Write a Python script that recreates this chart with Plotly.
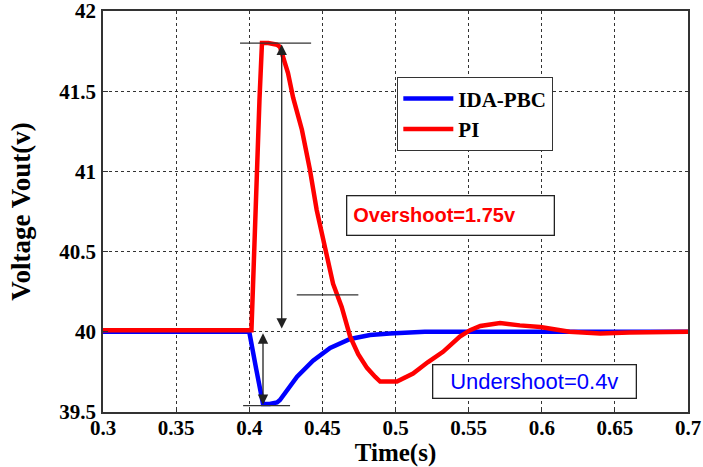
import plotly.graph_objects as go

# ---- data ----
t_ida = [0.30, 0.35, 0.40, 0.4047, 0.4094, 0.414, 0.419, 0.421, 0.4265, 0.4327, 0.4436,
         0.4553, 0.469, 0.4826, 0.496, 0.52, 0.55, 0.60, 0.65, 0.70]
v_ida = [40.0, 40.0, 40.0, 39.77, 39.55, 39.55, 39.56, 39.575, 39.64, 39.72, 39.82,
         39.90, 39.955, 39.98, 39.99, 40.0, 40.0, 40.0, 40.0, 40.0]

t_pi = [0.30, 0.35, 0.4015, 0.403, 0.405, 0.407, 0.4087, 0.413, 0.419, 0.421, 0.4265,
        0.43, 0.436, 0.4415, 0.4461, 0.4518, 0.4573, 0.4632, 0.469, 0.4745, 0.4805,
        0.486, 0.4895, 0.501, 0.506, 0.512, 0.522, 0.5325, 0.544, 0.551, 0.558,
        0.5715, 0.585, 0.599, 0.619, 0.64, 0.66, 0.68, 0.70]
v_pi = [40.01, 40.01, 40.01, 40.4, 41.0, 41.45, 41.8, 41.8, 41.79, 41.776, 41.613,
        41.46, 41.26, 41.01, 40.76, 40.51, 40.30, 40.155, 39.97, 39.86, 39.775,
        39.72, 39.69, 39.69, 39.71, 39.74, 39.81, 39.875, 39.97, 40.01, 40.036,
        40.055, 40.04, 40.03, 40.0, 39.99, 39.995, 40.0, 40.0]

series_names = ["IDA-PBC", "PI"]
x_ticks = [0.3, 0.35, 0.4, 0.45, 0.5, 0.55, 0.6, 0.65, 0.7]
x_tick_labels = ["0.3", "0.35", "0.4", "0.45", "0.5", "0.55", "0.6", "0.65", "0.7"]
y_ticks = [39.5, 40, 40.5, 41, 41.5, 42]
y_tick_labels = ["39.5", "40", "40.5", "41", "41.5", "42"]

# measurement markers (x0, x1, y) for horizontal reference lines
ref_lines = [(0.3937, 0.4423, 41.8), (0.4325, 0.4746, 40.23), (0.3958, 0.4279, 39.54)]
# double arrows (x, y_start, y_end)
arrows = [(0.4222, 41.8, 40.02), (0.4094, 40.0, 39.545)]
labels = [("<b>Overshoot=1.75v</b>", 0.5373, 40.728, "#ff0000", 194, 26, 6, 20, "left"),
          ("Undershoot=0.4v", 0.5947, 39.693, "#0000ff", 192, 22, 5, 22, "center")]

serif = "Liberation Serif, Times New Roman, serif"
sans = "Liberation Sans, Arial, sans-serif"

fig = go.Figure()
fig.add_trace(go.Scatter(x=t_ida, y=v_ida, mode="lines", name=series_names[0],
                         line=dict(color="#0000ff", width=4.5)))
fig.add_trace(go.Scatter(x=t_pi, y=v_pi, mode="lines", name=series_names[1],
                         line=dict(color="#ff0000", width=4.5)))

for x0, x1, y in ref_lines:
    fig.add_shape(type="line", x0=x0, x1=x1, y0=y, y1=y, xref="x", yref="y",
                  line=dict(color="#333333", width=1.2))

for x, y0, y1 in arrows:
    fig.add_annotation(x=x, y=y1, ax=x, ay=y0, xref="x", yref="y", axref="x", ayref="y",
                       showarrow=True, arrowhead=2, arrowsize=1.6, arrowwidth=1.3,
                       arrowcolor="#222222", arrowside="end+start", standoff=0,
                       startstandoff=0, text="")

for txt, x, y, col, w, h, pad, fs, al in labels:
    fig.add_annotation(x=x, y=y, xref="x", yref="y", text=txt, showarrow=False,
                       font=dict(family=sans, size=fs, color=col),
                       bordercolor="#222222", borderwidth=1.3, borderpad=pad,
                       bgcolor="white", width=w, height=h, align=al)

axis_common = dict(showline=True, linecolor="#333333", linewidth=1.5, mirror=True,
                   ticks="inside", ticklen=5, tickcolor="#333333",
                   showgrid=True, gridcolor="#333333", gridwidth=1, griddash="3px,3px",
                   zeroline=False, automargin=False, ticklabeloverflow="allow",
                   tickfont=dict(family=serif, size=21, color="black", weight="bold"))

fig.update_xaxes(range=[0.3, 0.7], tickvals=x_ticks, ticktext=x_tick_labels,
                 ticklabelstandoff=-4,
                 title=dict(text="Time(s)", font=dict(family=serif, size=25, color="black",
                                                       weight="bold"), standoff=11),
                 **axis_common)
fig.update_yaxes(range=[39.5, 42], tickvals=y_ticks, ticktext=y_tick_labels,
                 ticklabelstandoff=1,
                 title=dict(text="Voltage Vout(v)", font=dict(family=serif, size=27,
                                                               color="black", weight="bold"),
                            standoff=21),
                 **axis_common)

fig.update_layout(
    width=703, height=467,
    margin=dict(l=103, r=15, t=11, b=55),
    plot_bgcolor="white", paper_bgcolor="white",
    legend=dict(x=0.5026, y=0.835, xanchor="left", yanchor="top",
                bordercolor="#333333", borderwidth=1.3, bgcolor="white",
                font=dict(family=serif, size=21, color="black", weight="bold"),
                tracegroupgap=0, itemwidth=50),
)

fig.write_html("out.html")
